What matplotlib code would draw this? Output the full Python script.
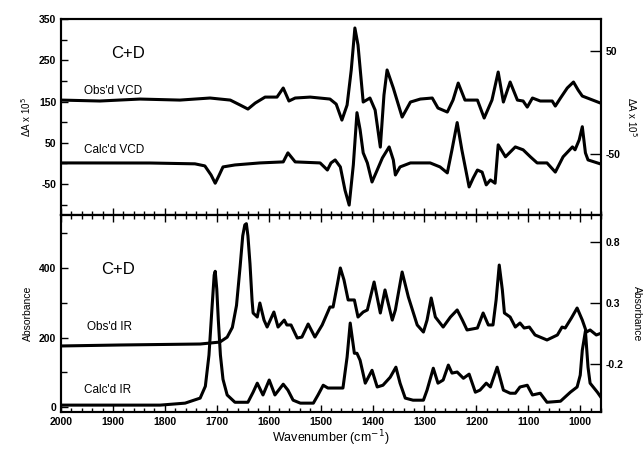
"""VCD / IR spectra comparison (C+D): observed vs calculated."""
import matplotlib
matplotlib.use("Agg")
import matplotlib.pyplot as plt
from matplotlib.ticker import MultipleLocator, FixedLocator

plt.rcParams["font.family"] = ["Liberation Sans", "DejaVu Sans"]
plt.rcParams["axes.unicode_minus"] = False

# observed VCD (right axis, dA x 1e5)
obs_vcd_wn = [2000, 1925, 1848, 1771, 1713, 1674, 1655, 1640, 1626, 1607, 1584, 1572, 1561,
              1549, 1520, 1482, 1470, 1459, 1449, 1441, 1434, 1428, 1418, 1405, 1395, 1385,
              1378, 1372, 1360, 1343, 1327, 1308, 1285, 1274, 1256, 1245, 1235, 1222, 1198,
              1185, 1170, 1158, 1148, 1135, 1121, 1110, 1102, 1092, 1077, 1054, 1048, 1038,
              1025, 1013, 1004, 996, 961]
obs_vcd = [2.4, 1.5, 3.4, 2.4, 4.4, 2.4, -2.4, -6.3, -0.5, 5.3, 5.3, 14.1, 1.5,
           4.4, 5.3, 3.4, -1.5, -17, -2.4, 31.6, 72.3, 55.8, 0.5, 4.4, -7.3, -43.2,
           7.3, 31.6, 14.1, -14.1, 0.5, 3.4, 4.4, -5.3, -9.2, 2.4, 18.9, 2.4, 2.4,
           -15, 2.4, 29.6, 0.5, 19.9, 2.4, 1.5, -4.4, 4.4, 1.5, 1.5, -3.4, 4.4,
           14.1, 19.9, 12.1, 6.3, -0.5]

# calculated VCD (left axis)
calc_vcd_wn = [2000, 1828, 1742, 1723, 1711, 1703, 1696, 1688, 1665, 1617, 1572, 1563, 1549,
               1501, 1493, 1487, 1480, 1472, 1462, 1453, 1445, 1437, 1430, 1424, 1418, 1410,
               1401, 1391, 1381, 1368, 1360, 1356, 1347, 1327, 1289, 1270, 1256, 1247, 1237,
               1228, 1214, 1206, 1198, 1189, 1181, 1173, 1164, 1158, 1144, 1125, 1110, 1096,
               1083, 1064, 1048, 1033, 1015, 1010, 1002, 996, 990, 985, 961]
calc_vcd = [1.2, 1, -1, -6, -28, -48, -30, -8.5, -3.7, 1.2, 3.7, 25.6, 3.7,
            1.2, -8.5, -16, 1.2, 8.5, -8.5, -65, -101, -3.7, 123, 82, 25.6, 1.2,
            -45, -16, 13.4, 40, 8.5, -28, -8.5, 1.2, 1.2, -8.5, -23, 33, 99,
            33, -57, -35, -16, -21, -52, -40, -48, 45, 16, 40, 33, 16,
            1.2, 1.2, -21, 16, 40, 33, 57, 89, 25.6, 8.5, -1.2]

# observed IR (right axis, absorbance)
obs_ir_wn = [2000, 1886, 1732, 1694, 1680, 1670, 1662, 1655, 1650, 1646, 1643, 1640, 1636,
             1632, 1630, 1622, 1617, 1609,
             1603, 1590, 1582, 1570, 1565, 1557, 1545, 1536, 1524, 1511, 1497, 1482, 1476,
             1468, 1462, 1455, 1447, 1435, 1428, 1418, 1410, 1397, 1385, 1376, 1362, 1356,
             1343, 1331, 1314, 1302, 1295, 1287, 1279, 1264, 1250, 1237, 1227, 1218, 1198,
             1187, 1177, 1168, 1162, 1156, 1150, 1146, 1135, 1125, 1116, 1108, 1098, 1087,
             1064, 1044, 1035, 1029, 1017, 1006, 996, 988, 981, 969, 959]
obs_ir = [-0.052, -0.044, -0.036, -0.020, 0.02, 0.1, 0.28, 0.6, 0.85, 0.94, 0.95, 0.85, 0.62,
          0.32, 0.218, 0.185, 0.30, 0.16,
          0.103, 0.226, 0.103, 0.16, 0.12, 0.12, 0.013, 0.021, 0.128, 0.021, 0.12, 0.267, 0.267,
          0.447, 0.587, 0.489, 0.325, 0.325, 0.185, 0.226, 0.243, 0.472, 0.218, 0.407, 0.16, 0.243,
          0.554, 0.349, 0.12, 0.062, 0.16, 0.341, 0.185, 0.103, 0.185, 0.243, 0.16, 0.079, 0.095,
          0.218, 0.12, 0.12, 0.325, 0.611, 0.407, 0.218, 0.185, 0.103, 0.136, 0.095, 0.103, 0.038,
          -0.003, 0.038, 0.103, 0.095, 0.177, 0.259, 0.16, 0.062, 0.079, 0.038, 0.054]

# calculated IR (left axis)
calc_ir_wn = [2000, 1809, 1761, 1732, 1722, 1715, 1709, 1705, 1703, 1700, 1697, 1693, 1688,
              1680, 1665, 1640, 1630,
              1622, 1611, 1599, 1588, 1572, 1563, 1553, 1539, 1514, 1505, 1495, 1486, 1468,
              1457, 1449, 1443, 1435, 1430, 1424, 1414, 1401, 1391, 1380, 1366, 1355, 1347,
              1337, 1322, 1302, 1295, 1283, 1274, 1264, 1254, 1247, 1237, 1225, 1214, 1202,
              1193, 1181, 1173, 1160, 1148, 1135, 1125, 1116, 1102, 1092, 1077, 1064, 1038,
              1019, 1006, 1000, 996, 990, 985, 981, 967, 959]
calc_ir = [5.8, 5.8, 11.5, 26, 60, 150, 290, 380, 391, 340, 250, 150, 80,
           35, 14, 14, 43,
           69, 35, 78, 35, 66, 49, 20, 11.5, 11.5, 35, 63, 55, 55,
           55, 144, 242, 155, 155, 135, 69, 106, 58, 63, 86, 115, 69,
           26, 20, 20, 49, 112, 69, 78, 121, 98, 101, 83, 95, 43,
           49, 69, 58, 115, 49, 40, 40, 58, 63, 35, 40, 14, 17,
           43, 58, 92, 164, 219, 115, 69, 43, 26]

W, H = 644, 449
fig = plt.figure(figsize=(W / 100, H / 100), dpi=100)
L, R = 61 / W, 601 / W
ax1 = fig.add_axes([L, 1 - 215 / H, R - L, 196 / H])
ax2 = fig.add_axes([L, 1 - 412 / H, R - L, 197 / H])
ax1r = ax1.twinx()
ax2r = ax2.twinx()

lw = 2.2
ax1.plot(calc_vcd_wn, calc_vcd, color="black", lw=lw)
ax1r.plot(obs_vcd_wn, obs_vcd, color="black", lw=lw)
ax2.plot(calc_ir_wn, calc_ir, color="black", lw=lw)
ax2r.plot(obs_ir_wn, obs_ir, color="black", lw=lw)

for ax in (ax1, ax2):
    ax.set_xlim(2000, 960)
    ax.xaxis.set_major_locator(MultipleLocator(100))
    ax.xaxis.set_minor_locator(MultipleLocator(20))
    ax.tick_params(axis="x", which="both", direction="in", top=True)
    ax.tick_params(axis="x", which="major", length=5, width=1)
    ax.tick_params(axis="x", which="minor", length=3, width=1)
    ax.tick_params(axis="y", which="both", direction="in", width=1)
    ax.tick_params(axis="y", which="major", length=5)
    ax.tick_params(axis="y", which="minor", length=4)
    for s in ax.spines.values():
        s.set_linewidth(1.5)
ax1.tick_params(axis="x", which="both", top=False, labelbottom=False)
for axr in (ax1r, ax2r):
    axr.tick_params(axis="y", direction="in", length=8, width=1)
    for s in axr.spines.values():
        s.set_linewidth(1.5)

ax1.set_ylim(-125, 350)
ax1.yaxis.set_major_locator(FixedLocator([-50, 50, 150, 250, 350]))
ax1.yaxis.set_minor_locator(FixedLocator([-100, 0, 100, 200, 300]))
ax1r.set_ylim(-109, 81)
ax1r.set_yticks([-50, 50])

ax2.set_ylim(-14, 553)
ax2.yaxis.set_major_locator(FixedLocator([0, 200, 400]))
ax2.yaxis.set_minor_locator(FixedLocator([100, 300, 500]))
ax2r.set_ylim(-0.593, 1.021)
ax2r.set_yticks([-0.2, 0.3, 0.8])
ax2r.set_yticklabels(["-0.2", "0.3", "0.8"])

for ax in (ax1, ax2, ax1r, ax2r):
    for lab in ax.get_xticklabels() + ax.get_yticklabels():
        lab.set_fontsize(7.5)
        lab.set_fontweight("bold")

ax1.set_ylabel("ΔA x 10$^5$", fontsize=7)
ax1r.set_ylabel("ΔA x 10$^5$", fontsize=7, rotation=270, labelpad=13)
ax2.set_ylabel("Absorbance", fontsize=7.5)
ax2r.set_ylabel("Absorbance", fontsize=7.5, rotation=270, labelpad=13)
ax2.set_xlabel("Wavenumber (cm$^{-1}$)", fontsize=9, labelpad=1)

ax1.text(1870, 267, "C+D", fontsize=12, ha="center", va="center")
ax1.text(1955, 175, "Obs'd VCD", fontsize=8.5, ha="left", va="center")
ax1.text(1955, 32, "Calc'd VCD", fontsize=8.5, ha="left", va="center")
ax2.text(1890, 397, "C+D", fontsize=12, ha="center", va="center")
ax2.text(1950, 230, "Obs'd IR", fontsize=8.5, ha="left", va="center")
ax2.text(1955, 50, "Calc'd IR", fontsize=8.5, ha="left", va="center")

fig.savefig("out.png", dpi=100)
